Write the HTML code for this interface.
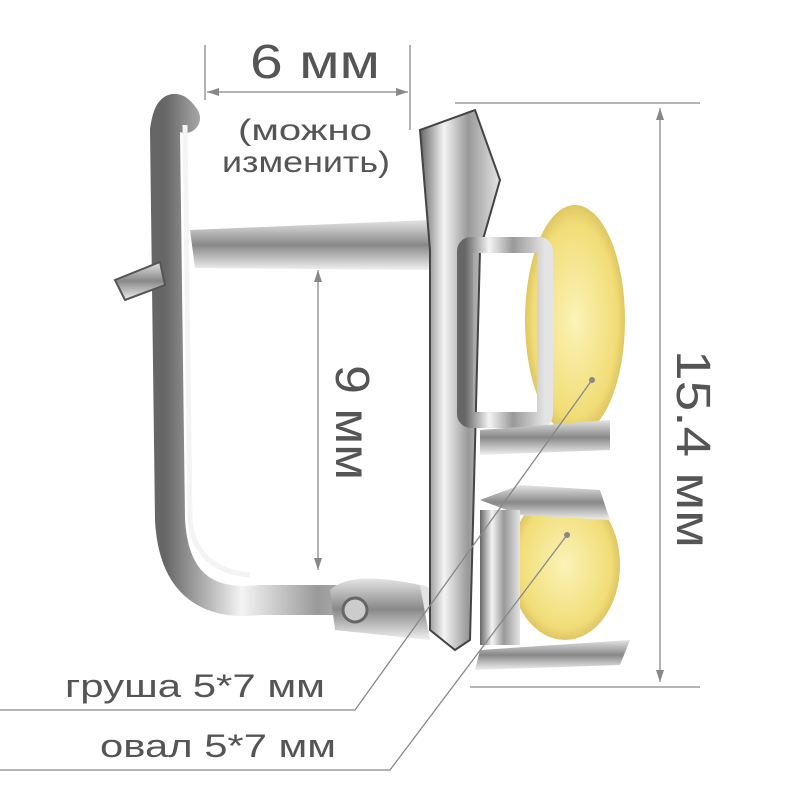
<!DOCTYPE html>
<html><head><meta charset="utf-8"><style>
html,body{margin:0;padding:0;background:#fff;width:800px;height:800px;overflow:hidden}
svg{display:block}
text{font-family:"Liberation Sans",sans-serif;fill:#555}
</style></head><body>
<svg width="800" height="800" viewBox="0 0 800 800" xmlns="http://www.w3.org/2000/svg">
<defs>
<linearGradient id="m" x1="0" x2="1" y1="0" y2="0">
<stop offset="0" stop-color="#666"/><stop offset="0.3" stop-color="#f4f4f4"/><stop offset="0.6" stop-color="#999"/><stop offset="1" stop-color="#e4e4e4"/></linearGradient>
<linearGradient id="mv" x1="0" x2="0" y1="0" y2="1">
<stop offset="0" stop-color="#e4e4e4"/><stop offset="0.5" stop-color="#888"/><stop offset="1" stop-color="#f0f0f0"/></linearGradient>
<radialGradient id="y" cx="0.5" cy="0.5" r="0.6">
<stop offset="0" stop-color="#fbf3b8"/><stop offset="0.7" stop-color="#f1dd77"/><stop offset="1" stop-color="#c9a94a"/></radialGradient>
</defs>
<ellipse cx="575" cy="320" rx="50" ry="115" fill="url(#y)"/>
<ellipse cx="565" cy="565" rx="55" ry="75" fill="url(#y)"/>
<path d="M185 118 Q170 95 165 130 L170 520 Q175 610 260 600 L420 600" fill="none" stroke="url(#m)" stroke-width="30" stroke-linecap="round"/>
<path d="M185 125 L190 520 Q195 570 250 575" fill="none" stroke="#f4f4f4" stroke-width="5"/>
<path d="M330 590 Q350 570 420 585 L430 640 L335 630 Z" fill="url(#mv)"/>
<circle cx="355" cy="610" r="12" fill="#ccc" stroke="#666" stroke-width="3"/>
<path d="M115 280 L160 262 L165 285 L125 300 Z" fill="url(#mv)" stroke="#555" stroke-width="2"/>
<path d="M190 230 L430 220 L430 270 L195 268 Z" fill="url(#mv)"/>
<path d="M420 130 L475 110 L500 180 L480 250 L470 640 L455 650 L430 630 L430 250 Z" fill="url(#m)" stroke="#444" stroke-width="2"/>
<rect x="465" y="245" width="80" height="175" rx="6" fill="none" stroke="url(#m)" stroke-width="16"/>
<path d="M480 430 L610 420 L610 450 L480 455 Z" fill="url(#mv)"/>
<path d="M480 500 L520 485 L600 490 L610 520 L520 515 Z" fill="url(#mv)"/>
<rect x="480" y="510" width="40" height="135" fill="url(#m)"/>
<path d="M480 650 L630 640 L620 665 L475 670 Z" fill="url(#mv)"/>
<g stroke="#888" stroke-width="1.3" fill="none">
<line x1="205" y1="45" x2="205" y2="100"/>
<line x1="410" y1="45" x2="410" y2="130"/>
<line x1="207" y1="92" x2="408" y2="92"/>
<line x1="455" y1="103" x2="700" y2="103"/>
<line x1="470" y1="687" x2="700" y2="687"/>
<line x1="660" y1="108" x2="660" y2="682"/>
<line x1="318" y1="270" x2="318" y2="570"/>
<polyline points="0,710 355,710 592,380"/>
<polyline points="0,770 390,770 567,535"/>
</g>
<g fill="#888">
<path d="M207 92 l12 -4 v8z"/><path d="M408 92 l-12 -4 v8z"/>
<path d="M660 108 l-4 12 h8z"/><path d="M660 682 l-4 -12 h8z"/>
<path d="M318 270 l-4 12 h8z"/><path d="M318 570 l-4 -12 h8z"/>
</g>
<circle cx="592" cy="380" r="3" fill="#888"/><circle cx="567" cy="535" r="3" fill="#888"/>
<text x="250" y="78" font-size="48" textLength="130" lengthAdjust="spacingAndGlyphs">6 мм</text>
<text x="238" y="140" font-size="30" textLength="134" lengthAdjust="spacingAndGlyphs">(можно</text>
<text x="222" y="172" font-size="30" textLength="168" lengthAdjust="spacingAndGlyphs">изменить)</text>
<text transform="translate(336,365) rotate(90)" font-size="48" textLength="115" lengthAdjust="spacingAndGlyphs">9 мм</text>
<text transform="translate(677,350) rotate(90)" font-size="48" textLength="198" lengthAdjust="spacingAndGlyphs">15.4 мм</text>
<text x="65" y="697" font-size="32" textLength="260" lengthAdjust="spacingAndGlyphs">груша 5*7 мм</text>
<text x="100" y="757" font-size="32" textLength="236" lengthAdjust="spacingAndGlyphs">овал 5*7 мм</text>
</svg>
</body></html>
